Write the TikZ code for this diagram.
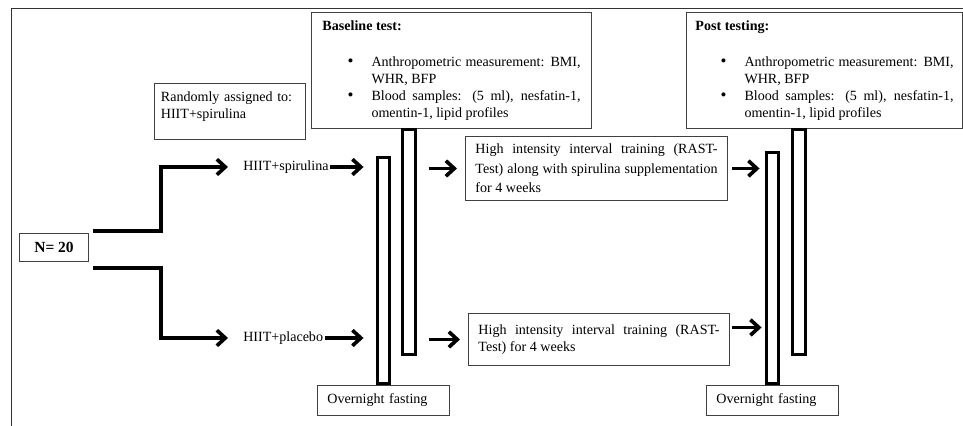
\documentclass[tikz,border=0pt]{standalone}
\usepackage{fontspec}
\setmainfont{Liberation Serif}
\usepackage{enumitem}
\usetikzlibrary{arrows.meta,shapes,positioning}
\hyphenpenalty=10000
\tikzstyle{box}=[draw=black!75, line width=0.7pt
,anchor=north west
,inner xsep=0.25cm, inner ysep=0pt
,font=\fontsize{10}{12}\selectfont
]
\tikzstyle{test box} = [box, align=justify, minimum height=2.9cm, text width=6.45cm]
\tikzstyle{train box} = [box, align=justify]
\tikzstyle{fast box} = [box, align=left, text width=2.8cm, minimum height=0.75cm]
\tikzstyle{bar} = [draw, line width=2.2pt, minimum width=0.32cm, inner sep=0pt]
\tikzstyle{grp} = [inner sep=0pt, anchor=west, font=\fontsize{10}{12}\selectfont]
\tikzstyle{conn} = [draw, line width=2.6pt]
\tikzstyle{arr} = [conn, -{Straight Barb[length=6pt,width=11pt]}]
\tikzstyle{frame} = [draw=black!80, line width=0.7pt]
\setlist[itemize]{label={\large\textbullet}, leftmargin=1.225cm, labelsep=0.45cm, topsep=14pt, partopsep=0pt, itemsep=0pt, parsep=0pt}

\begin{document}
\begin{tikzpicture}[x=0.025cm, y=-0.025cm]
    \useasboundingbox (0,0) rectangle (963,426);
    \path[frame] (11,426) -- (11,8) -- (963,8);

    % Boxes with text
    \node[box, font=\fontsize{11}{13}\selectfont\bfseries, inner xsep=0pt, minimum width=1.725cm, minimum height=0.7cm] (nbox) at (19,233) {N= 20};
    \node[box, text width=3.45cm, inner xsep=0.16cm, text depth=0.75cm, inner ysep=0.2cm] (rand) at (154,83) {Randomly assigned to:\\HIIT+spirulina};
    \node[test box, inner xsep=0.275cm] (base) at (311,12) {\textbf{Baseline test:}
        \begin{itemize}
        \item Anthropometric measurement: BMI,\linebreak WHR, BFP
        \item Blood samples: (5 ml), nesfatin-1,\linebreak omentin-1, lipid profiles
        \end{itemize}};
    \node[test box, inner xsep=0.225cm] (post) at (686,12) {\textbf{Post testing:}
        \begin{itemize}
        \item Anthropometric measurement: BMI,\linebreak WHR, BFP
        \item Blood samples: (5 ml), nesfatin-1,\linebreak omentin-1, lipid profiles
        \end{itemize}};
    \node[train box, text width=6.05cm, minimum height=1.6cm, font=\fontsize{10}{14}\selectfont] (trs) at (465,136) {High intensity interval training (RAST-\linebreak Test) along with spirulina supplementation for 4 weeks};
    \node[train box, text width=6.025cm, minimum height=1.3cm] (trp) at (468,313) {High intensity interval training (RAST-\linebreak Test) for 4 weeks};
    \node[fast box] (fast1) at (317,385) {Overnight fasting};
    \node[fast box] (fast2) at (706,385) {Overnight fasting};

    % Group labels
    \node[grp] (hs) at (243,167) {HIIT+spirulina};
    \node[grp] (hp) at (243,338) {HIIT+placebo};

    % Bars
    \node[bar, anchor=south, minimum height=5.65cm] (bb1) at (fast1.north) {};
    \node[bar, anchor=south, minimum height=5.775cm] (pb1) at (fast2.north) {};
    \foreach \pos/\name in {{(401,128)/bb2}, {(791,128)/pb2}}
        \node[bar, anchor=north west, minimum height=5.625cm] (\name) at \pos {};

    % Connect
    \path[arr] ([shift={(4,-2)}]nbox.north east) -- ++(68,0) |- ([xshift=-0.375cm]hs.west);
    \path[arr] ([shift={(4,6)}]nbox.south east) -- ++(68,0) |- ([xshift=-0.375cm]hp.west);
    \foreach \source in {hs, hp}
        \path[arr, shorten <=1pt, shorten >=0.3cm] (\source.east) -- (\source.east -| bb1.west);
    \foreach \dest in {trs, trp}
        \path[arr, shorten <=0.3cm, shorten >=0.2cm] (\dest.west -| bb2.east) -- (\dest.west);
    \coordinate (tp) at ([yshift=0.3cm]trp.east);
    \path[arr, shorten <=0.1cm, shorten >=0.125cm] (trs.east) -- (trs.east -| pb1.west);
    \path[arr, shorten <=0.05cm, shorten >=0.075cm] (tp) -- (tp -| pb1.west);
\end{tikzpicture}
\end{document}
